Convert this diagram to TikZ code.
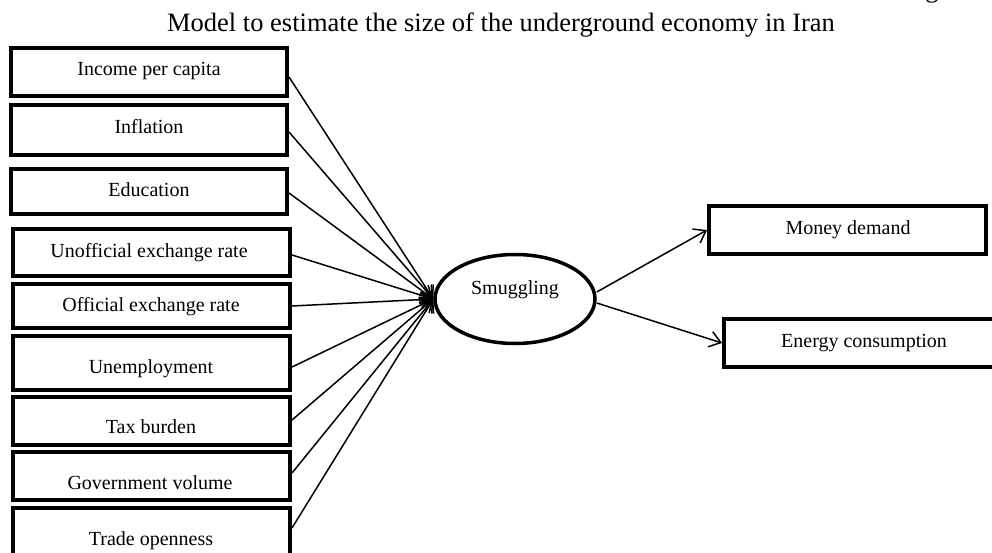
\documentclass[tikz,border=0pt]{standalone}
\usepackage{fontspec}
\setmainfont{Liberation Serif}
\usetikzlibrary{shapes.geometric,arrows.meta}
\tikzset{
  box/.style={draw=black, line width=4pt, rectangle, inner sep=0pt},
  oval/.style={draw=black, line width=3.5pt, ellipse, inner sep=0pt, minimum width=160pt, minimum height=89pt},
  lbl/.style={anchor=base, inner sep=0pt, font=\fontsize{20}{24}\selectfont},
  ttl/.style={anchor=base, inner sep=0pt, font=\fontsize{26.5}{30}\selectfont},
  conn/.style={line width=1.5pt, -{Straight Barb[length=11pt,width=16pt,line width=1.5pt]}},
}
\begin{document}
\begin{tikzpicture}[x=1pt,y=-1pt]
\useasboundingbox (0,0) rectangle (992,553);
% title
\node[ttl] (title) at (501,32) {Model to estimate the size of the underground economy in Iran};
\node[ttl, anchor=base west] (fig) at (903,-2) {Figure};
% left boxes
\node[box, minimum width=276pt, minimum height=48pt] (b1) at (149,72) {};
\node[box, minimum width=276pt, minimum height=50pt] (b2) at (149,130) {};
\node[box, minimum width=276pt, minimum height=45pt] (b3) at (149,191.5) {};
\node[box, minimum width=277pt, minimum height=47pt] (b4) at (151.5,252.5) {};
\node[box, minimum width=277pt, minimum height=44pt] (b5) at (151.5,306) {};
\node[box, minimum width=277pt, minimum height=54pt] (b6) at (151.5,363) {};
\node[box, minimum width=277pt, minimum height=48pt] (b7) at (151.5,421) {};
\node[box, minimum width=277pt, minimum height=48pt] (b8) at (151.5,476) {};
\node[box, minimum width=277pt, minimum height=50pt] (b9) at (151.5,533) {};
\node[lbl] (l1) at (149,76) {Income per capita};
\node[lbl] (l2) at (149,134) {Inflation};
\node[lbl] (l3) at (149,197) {Education};
\node[lbl] (l4) at (149,257) {Unofficial exchange rate};
\node[lbl] (l5) at (151,311) {Official exchange rate};
\node[lbl] (l6) at (151,373) {Unemployment};
\node[lbl] (l7) at (151,433) {Tax burden};
\node[lbl] (l8) at (150,489) {Government volume};
\node[lbl] (l9) at (151,545) {Trade openness};
% central ellipse
\node[oval] (sm) at (515,299) {};
\node[lbl] (lsm) at (515,294) {Smuggling};
% right boxes
\node[box, minimum width=277pt, minimum height=48pt] (md) at (847.5,230) {};
\node[box, minimum width=280pt, minimum height=48pt] (ec) at (864,343) {};
\node[lbl] (lmd) at (848,234) {Money demand};
\node[lbl] (lec) at (864,347) {Energy consumption};
% connectors
\draw[conn] ([yshift=-5pt]b1.east) -- (sm.west);
\draw[conn] ([yshift=-2pt]b2.east) -- (sm.west);
\draw[conn] ([yshift=-1.5pt]b3.east) -- (sm.west);
\draw[conn] ([yshift=-2.5pt]b4.east) -- (sm.west);
\draw[conn] (b5.east) -- (sm.west);
\draw[conn] ([yshift=-4pt]b6.east) -- (sm.west);
\draw[conn] ([yshift=1pt]b7.east) -- (sm.west);
\draw[conn] ([yshift=3pt]b8.east) -- (sm.west);
\draw[conn] ([yshift=5pt]b9.east) -- (sm.west);
\draw[conn] ([yshift=7pt]sm.east) -- (md.west);
\draw[conn] ([yshift=-4pt]sm.east) -- (ec.west);
\end{tikzpicture}
\end{document}
